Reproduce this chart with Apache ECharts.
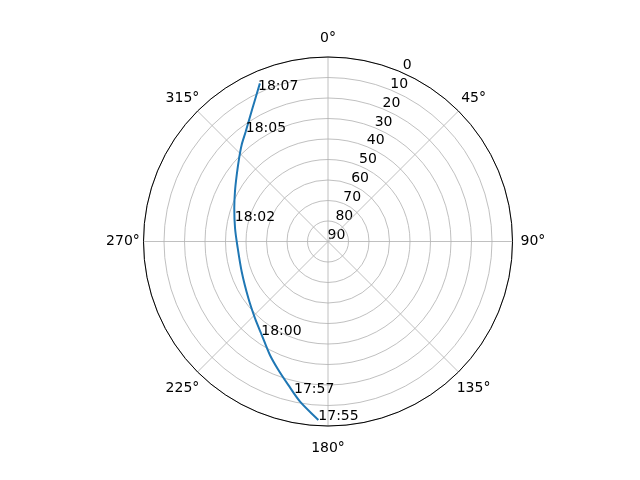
<!DOCTYPE html>
<html>
<head>
<meta charset="utf-8">
<script src="https://cdn.jsdelivr.net/npm/echarts@6/dist/echarts.min.js"></script>
<style>
  html, body { margin: 0; padding: 0; background: #fff; }
  #chart { width: 640px; height: 480px; }
</style>
</head>
<body>
<div id="chart"></div>
<script>
// ground track of the pass (azimuth deg, elevation deg)
var trackAz = [183.1, 183.7, 189.9, 195.5, 201.1, 207.1, 215.3, 223.5, 234.5, 250.7,
               267.8, 278.1, 289.5, 298.2, 306.1, 313.1, 318.2, 323.1, 328.0, 332.7, 336.7];
var trackEl = [2.8, 3.6, 10.7, 17.4, 22.8, 27.8, 34.1, 38.3, 42.3, 45.4,
               45.7, 44.2, 41.5, 38.5, 34.9, 30.6, 26.8, 23.1, 18.2, 12.3, 6.0];

// time stamps written along the track
var labelTimes = ['17:55', '17:57', '18:00', '18:02', '18:05', '18:07'];
var labelAz = [183.1, 192.6, 215.3, 282.0, 323.1, 335.2];
var labelEl = [2.8, 14.1, 33.7, 43.5, 23.2, 8.6];

var FONT = 'DejaVu Sans';
var GRID = '#b0b0b0';

var chart = echarts.init(document.getElementById('chart'), null, { renderer: 'canvas' });

var trackData = [];
for (var i = 0; i < trackAz.length; i++) {
    trackData.push([trackEl[i], trackAz[i]]);
}
var labelData = [];
for (var j = 0; j < labelTimes.length; j++) {
    labelData.push({ value: [labelEl[j], labelAz[j]], name: labelTimes[j] });
}

// echarts aligns angle labels by side; pad them so they sit centred like matplotlib's
function padStyle(p) {
    return { padding: p, fontSize: 14, fontFamily: FONT, color: '#000' };
}
var angleRich = {
    a0: padStyle([0, 0, 14, 0]),
    a45: padStyle([0, 0, 7.4, 4.5]),
    a90: padStyle([0, 0, 0, 10.5]),
    a135: padStyle([10.8, 0, 0, 0]),
    a180: padStyle([17.5, 0, 0, 0]),
    a225: padStyle([10.8, 0, 0, 0]),
    a270: padStyle([0, 6.2, 0, 0]),
    a315: padStyle([0, 0, 7.4, 0])
};

var option = {
    backgroundColor: '#fff',
    animation: false,
    textStyle: { fontFamily: FONT },
    polar: [
        { center: [328, 241.5], radius: 184.5 },
        // second polar only carries the elevation labels (matplotlib puts them at 22.5 deg)
        { center: [336.5, 235.5], radius: 184.5 }
    ],
    angleAxis: [
        {
            polarIndex: 0,
            type: 'value',
            min: 0,
            max: 360,
            interval: 45,
            startAngle: 90,
            clockwise: true,
            z: 3,
            axisLine: { lineStyle: { color: '#000', width: 1 } },
            axisTick: { show: false },
            axisLabel: {
                margin: -2.5,
                color: '#000',
                fontSize: 14,
                fontFamily: FONT,
                rich: angleRich,
                formatter: function (v) {
                    return v === 360 ? '' : '{a' + v + '|' + v + '°}';
                }
            },
            splitLine: { lineStyle: { color: GRID, width: 0.8 } }
        },
        {
            polarIndex: 1,
            type: 'value',
            min: 0,
            max: 360,
            startAngle: 67.5,
            clockwise: true,
            show: false
        }
    ],
    radiusAxis: [
        {
            polarIndex: 0,
            type: 'value',
            min: 0,
            max: 90,
            interval: 10,
            inverse: true,
            axisLine: { show: false },
            axisTick: { show: false },
            axisLabel: { show: false },
            splitLine: { lineStyle: { color: GRID, width: 0.8 } }
        },
        {
            polarIndex: 1,
            type: 'value',
            min: 0,
            max: 90,
            interval: 10,
            inverse: true,
            axisLine: { show: false },
            axisTick: { show: false },
            splitLine: { show: false },
            axisLabel: {
                margin: 0,
                align: 'center',
                verticalAlign: 'middle',
                color: '#000',
                fontSize: 14,
                fontFamily: FONT
            }
        }
    ],
    series: [
        {
            name: 'track',
            type: 'line',
            coordinateSystem: 'polar',
            polarIndex: 0,
            data: trackData,
            showSymbol: false,
            smooth: 0.3,
            lineStyle: { color: '#1f77b4', width: 2 },
            z: 4
        },
        {
            name: 'times',
            type: 'scatter',
            coordinateSystem: 'polar',
            polarIndex: 0,
            data: labelData,
            symbol: 'circle',
            symbolSize: 0.01,
            itemStyle: { color: '#000', opacity: 0 },
            label: {
                show: true,
                position: [0, 3],
                align: 'left',
                verticalAlign: 'bottom',
                formatter: '{b}',
                color: '#000',
                opacity: 1,
                textBorderWidth: 0,
                fontSize: 14,
                fontFamily: FONT
            },
            z: 5
        }
    ]
};

chart.setOption(option);
</script>
</body>
</html>
